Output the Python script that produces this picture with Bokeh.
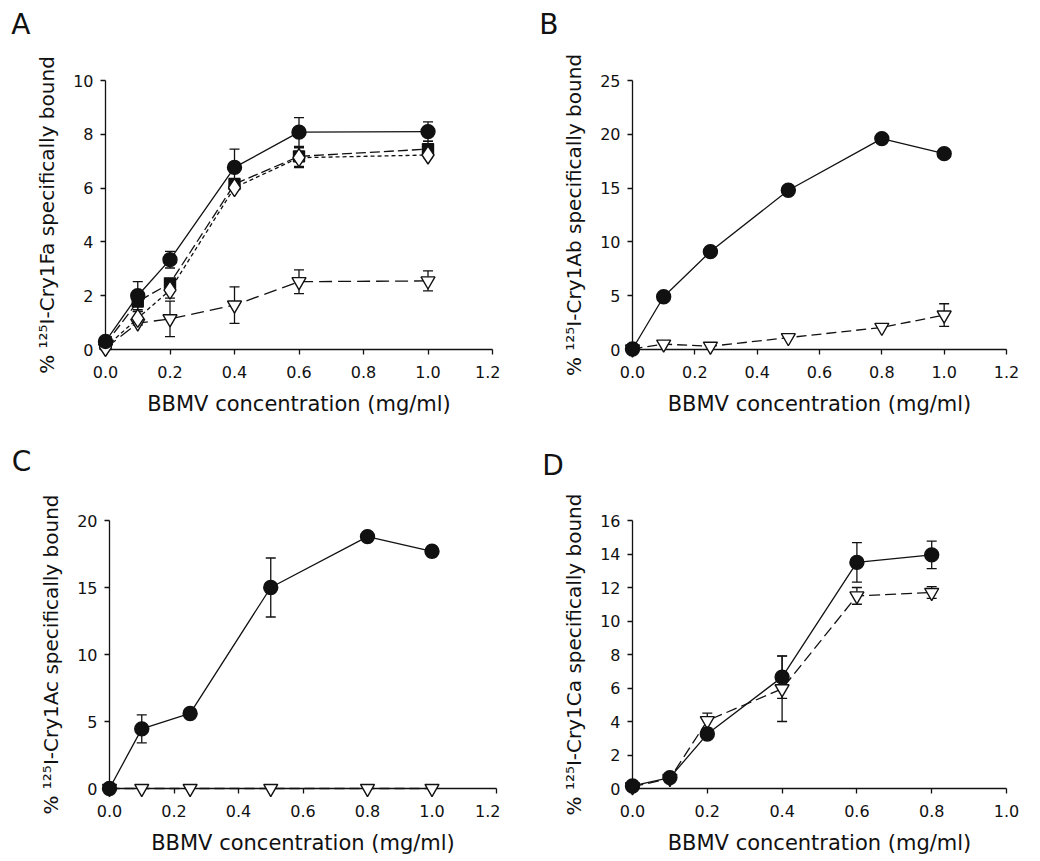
from bokeh.plotting import figure
from bokeh.models import Range1d, FixedTicker, NumeralTickFormatter, ColumnDataSource, Whisker, TeeHead
from bokeh.core.properties import value
from bokeh.layouts import row, column
from bokeh.embed import file_html
from bokeh.resources import INLINE

# ---------------- data ----------------
# Panel A: Cry1Fa
conc_A = [0.0, 0.1, 0.2, 0.4, 0.6, 1.0]
A_circle = [0.3, 2.0, 3.34, 6.77, 8.08, 8.1]
A_circle_err = [0.0, 0.52, 0.31, 0.68, 0.54, 0.36]
A_square = [0.2, 1.78, 2.46, 6.15, 7.18, 7.45]
A_square_err = [0.0, 0.35, 0.0, 0.0, 0.37, 0.3]
A_diamond = [0.08, 1.16, 2.21, 6.02, 7.13, 7.23]
A_diamond_err = [0.0, 0.25, 0.3, 0.0, 0.37, 0.1]
A_triangle = [0.05, 0.98, 1.14, 1.65, 2.52, 2.55]
A_triangle_err = [0.0, 0.0, 0.66, 0.68, 0.44, 0.37]

# Panel B: Cry1Ab
conc_B = [0.0, 0.1, 0.25, 0.5, 0.8, 1.0]
B_circle = [0.05, 4.9, 9.1, 14.8, 19.6, 18.2]
B_triangle = [0.05, 0.5, 0.3, 1.1, 2.05, 3.2]
B_triangle_err = [0.0, 0.0, 0.0, 0.0, 0.0, 1.05]

# Panel C: Cry1Ac
conc_C = [0.0, 0.1, 0.25, 0.5, 0.8, 1.0]
C_circle = [0.0, 4.45, 5.6, 15.0, 18.8, 17.7]
C_circle_err = [0.0, 1.04, 0.0, 2.2, 0.0, 0.4]
C_triangle = [0.0, 0.0, 0.0, 0.0, 0.0, 0.0]

# Panel D: Cry1Ca
conc_D = [0.0, 0.1, 0.2, 0.4, 0.6, 0.8]
D_circle = [0.15, 0.65, 3.25, 6.65, 13.5, 13.95]
D_circle_err = [0.0, 0.0, 0.0, 1.27, 1.18, 0.82]
D_triangle = [0.1, 0.6, 4.05, 5.95, 11.5, 11.7]
D_triangle_err = [0.0, 0.0, 0.45, 1.95, 0.5, 0.35]

x_ticks_12 = [0.0, 0.2, 0.4, 0.6, 0.8, 1.0, 1.2]
x_ticks_10 = [0.0, 0.2, 0.4, 0.6, 0.8, 1.0]

FONT = "DejaVu Sans"
INK = "#111111"


def panel(letter, ylabel, W, H, x0, x1, y0, y1, xmax, ymax, xticks, yticks, letter_x, letter_base):
    p = figure(width=W, height=H,
               x_range=Range1d(0, xmax), y_range=Range1d(0, ymax),
               output_backend="svg", toolbar_location=None,
               min_border_left=int(round(x0)), min_border_right=int(round(W - x1)),
               min_border_top=int(round(y1)), min_border_bottom=int(round(H - y0)))
    p.grid.visible = False
    p.outline_line_color = None
    p.background_fill_color = "white"
    p.border_fill_color = "white"
    p.xaxis.ticker = FixedTicker(ticks=xticks)
    p.yaxis.ticker = FixedTicker(ticks=yticks)
    p.xaxis.formatter = NumeralTickFormatter(format="0.0")
    for ax in (p.xaxis, p.yaxis):
        ax.major_tick_in = 0
        ax.major_tick_out = 5
        ax.minor_tick_line_color = None
        ax.axis_line_width = 1.3
        ax.major_tick_line_width = 1.3
        ax.axis_line_color = INK
        ax.major_tick_line_color = INK
        ax.major_label_text_font = FONT
        ax.major_label_text_font_size = "16px"
        ax.major_label_text_color = INK
        ax.axis_label_text_font = FONT
        ax.axis_label_text_font_style = "normal"
        ax.axis_label_text_color = INK
    p.xaxis.axis_label_text_font_size = "21px"
    p.yaxis.axis_label_text_font_size = "20px"
    p.xaxis.major_label_standoff = 11
    p.yaxis.major_label_standoff = 7
    p.xaxis.axis_label_standoff = 11
    p.yaxis.axis_label_standoff = 11
    p.xaxis.axis_label = "BBMV concentration (mg/ml)"
    p.yaxis.axis_label = ylabel
    # panel letter: anchored at the frame's top-left corner, shifted in pixels
    p.text(x=[0], y=[ymax], text=[letter], x_offset=letter_x - x0, y_offset=letter_base - y1,
           text_font=value(FONT), text_font_size="28px", text_color=INK,
           text_baseline="alphabetic", text_align="left", level="overlay")
    return p


def errbars(p, x, y, e):
    xs = [a for a, d in zip(x, e) if d > 0]
    ys = [b for b, d in zip(y, e) if d > 0]
    ds = [d for d in e if d > 0]
    src = ColumnDataSource(dict(x=xs, up=[b + d for b, d in zip(ys, ds)], lo=[b - d for b, d in zip(ys, ds)]))
    w = Whisker(base="x", upper="up", lower="lo", source=src, level="underlay",
                line_color=INK, line_width=1.3,
                upper_head=TeeHead(size=10, line_color=INK, line_width=1.3),
                lower_head=TeeHead(size=10, line_color=INK, line_width=1.3))
    p.add_layout(w)


def series(p, x, y, marker, fill, dash, size, lw=1.3):
    p.line(x, y, line_color=INK, line_width=lw, line_dash=dash, level="overlay")
    p.scatter(x, y, marker=marker, size=size, fill_color=fill, line_color=INK, line_width=1.4,
              level="overlay")


# ---------------- Panel A ----------------
pA = panel("A", "% \u00b9\u00b2\u2075I-Cry1Fa specifically bound", 500, 420,
           105.3, 492.5, 349, 80, 1.2, 10, x_ticks_12, [0, 2, 4, 6, 8, 10], 11, 24)
errbars(pA, conc_A, A_circle, A_circle_err)
errbars(pA, conc_A, A_square, A_square_err)
errbars(pA, conc_A, A_diamond, A_diamond_err)
errbars(pA, conc_A, A_triangle, A_triangle_err)
series(pA, conc_A, A_triangle, "inverted_triangle", "white", "13 6", 14)
series(pA, conc_A, A_square, "square", INK, "10 4", 11)
series(pA, conc_A, A_diamond, "diamond", "white", "4 3", 18)
series(pA, conc_A, A_circle, "circle", INK, "solid", 14)

# ---------------- Panel B ----------------
pB = panel("B", "% \u00b9\u00b2\u2075I-Cry1Ab specifically bound", 540, 420,
           132.3, 506.3, 349, 79.3, 1.2, 25, x_ticks_12, [0, 5, 10, 15, 20, 25], 39, 23)
errbars(pB, conc_B, B_triangle, B_triangle_err)
series(pB, conc_B, B_triangle, "inverted_triangle", "white", "10 5", 14)
series(pB, conc_B, B_circle, "circle", INK, "solid", 14)

# ---------------- Panel C ----------------
pC = panel("C", "% \u00b9\u00b2\u2075I-Cry1Ac specifically bound", 500, 441,
           108.7, 496.3, 370, 100, 1.2, 20, x_ticks_12, [0, 5, 10, 15, 20], 11, 41)
errbars(pC, conc_C, C_circle, C_circle_err)
series(pC, conc_C, C_triangle, "inverted_triangle", "white", "10 5", 14)
series(pC, conc_C, C_circle, "circle", INK, "solid", 14)

# ---------------- Panel D ----------------
pD = panel("D", "% \u00b9\u00b2\u2075I-Cry1Ca specifically bound", 540, 441,
           132.3, 506.0, 367.7, 96, 1.0, 16, x_ticks_10, [0, 2, 4, 6, 8, 10, 12, 14, 16], 42, 41)
errbars(pD, conc_D, D_circle, D_circle_err)
errbars(pD, conc_D, D_triangle, D_triangle_err)
series(pD, conc_D, D_triangle, "inverted_triangle", "white", "11 5", 14)
series(pD, conc_D, D_circle, "circle", INK, "solid", 14)

layout = column(row(pA, pB, spacing=0), row(pC, pD, spacing=0), spacing=0)
open("out.html", "w").write(file_html(layout, INLINE))
